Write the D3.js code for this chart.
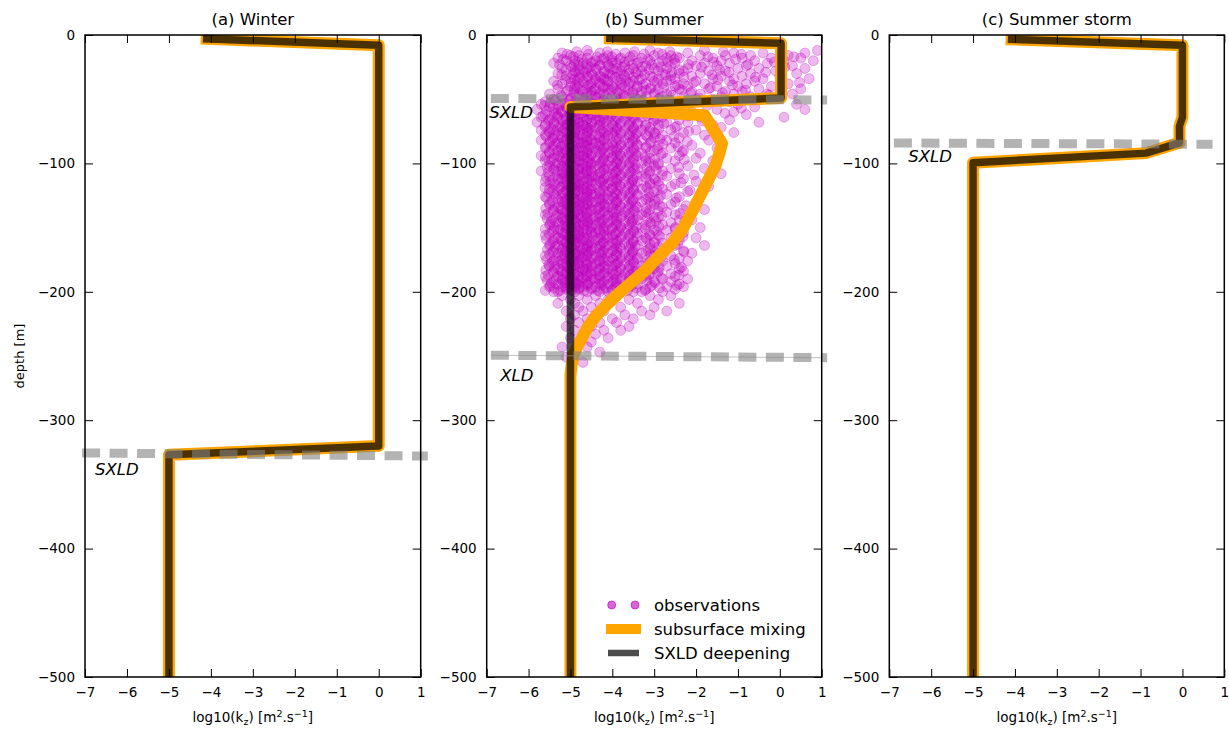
<!DOCTYPE html>
<html><head><meta charset="utf-8">
<script src="https://cdn.jsdelivr.net/npm/d3@7"></script>
<style>body{margin:0;background:#fff} text{font-family:"DejaVu Sans",sans-serif;fill:#000}</style>
</head><body><svg id="chart" width="1229" height="731"></svg>
<script>
// ---------------- data ----------------
const panelTitles = ["(a) Winter", "(b) Summer", "(c) Summer storm"];
const xTicks = [-7, -6, -5, -4, -3, -2, -1, 0, 1];
const yTicks = [0, -100, -200, -300, -400, -500];
const legendLabels = ["observations", "subsurface mixing", "SXLD deepening"];

// profiles: [log10(kz), depth]
const winterMixing    = [[-4.1,-3],[0,-8],[0,-320],[-5,-327],[-5,-500]];
const winterDeepening = [[-4.1,-3],[0,-8],[0,-320],[-5,-327],[-5,-500]];
const summerMixing    = [[-4.06,-2.6],[0.03,-6.5],[0.03,-49],[-5,-56],[-1.8,-62.5],[-1.38,-84.5],[-1.45,-93],[-1.54,-102],[-1.82,-120],[-2.1,-138],[-2.3,-150],[-2.57,-162],[-2.88,-172],[-3.2,-183],[-3.52,-192],[-3.84,-201],[-4.13,-210],[-4.4,-219],[-4.58,-227],[-4.71,-235],[-4.83,-242],[-4.91,-248],[-4.97,-256],[-5,-265],[-5,-500]];
const summerDeepening = [[-4.06,-2.6],[0.03,-6.5],[0.03,-49],[-5,-56],[-5,-500]];
const stormMixing     = [[-4.08,-3.4],[0,-8],[0,-64],[-0.07,-71],[-0.07,-84],[-0.87,-92],[-5,-99.5],[-5,-500]];
const stormDeepening  = [[-4.08,-3.4],[0,-8],[0,-64],[-0.07,-71],[-0.07,-84],[-0.87,-92],[-5,-99.5],[-5,-500]];

// layer depths: [xStart, xEnd, depthStart, depthEnd]
const winterSXLD = [-7.07, 1.17, -325.5, -327.9];
const summerSXLD = [-6.9, 1.13, -49.4, -50.6];
const summerXLD  = [-6.9, 1.13, -249.4, -251.3];
const stormSXLD  = [-6.89, 0.72, -84.1, -85.1];

// observations (summer): each row = depth, then log10(kz) values at that depth
const obsRows = [
[-12,-4.6,-3.1,-1.8,0.9],
[-14,-5.2,-4.3,-3.7,-2.9,-2.2,-1.1,-0.4,0.6],
[-16,-5.0,-4.8,-4.1,-3.5,-3.0,-2.6,-1.9,-1.3,-0.7,0.2],
[-18,-5.3,-4.6,-4.2,-3.8,-3.3,-2.7,-2.4,-1.6,-0.9,-0.2,0.5],
[-20,-5.1,-4.9,-4.4,-4.0,-3.6,-3.1,-2.8,-2.1,-1.4,-0.6,0.1,0.8],
[-22,-5.4,-4.7,-4.5,-4.0,-3.9,-3.4,-2.9,-2.5,-1.8,-1.2,-0.3],
[-24,-5.0,-4.8,-4.3,-4.1,-3.7,-3.2,-2.6,-2.0,-1.5,-0.8,0.3],
[-26,-5.2,-4.6,-4.4,-3.9,-3.5,-3.0,-2.7,-2.2,-1.0,-0.5,0.6],
[-28,-4.9,-4.7,-4.2,-3.8,-3.3,-2.9,-2.3,-1.7,-1.3,-0.1],
[-30,-5.3,-4.8,-4.5,-4.1,-3.6,-3.4,-2.8,-2.4,-1.9,-0.7,0.4],
[-32,-5.1,-4.6,-4.3,-4.0,-3.7,-3.1,-2.6,-2.1,-1.4,-0.9,0.0],
[-34,-5.0,-4.9,-4.4,-4.2,-3.8,-3.3,-2.9,-2.5,-1.6,-1.1,-0.4,0.7],
[-36,-5.4,-4.7,-4.1,-3.9,-3.5,-3.0,-2.7,-2.0,-1.2,-0.6],
[-38,-5.2,-4.8,-4.5,-4.3,-3.6,-3.2,-2.8,-2.3,-1.8,-0.8,0.2],
[-40,-5.0,-4.6,-4.2,-4.0,-3.7,-3.4,-2.5,-2.2,-1.5,-1.0,-0.2],
[-42,-5.3,-4.9,-4.4,-4.1,-3.8,-3.1,-2.9,-2.4,-1.7,-0.5,0.5],
[-44,-5.1,-4.7,-4.5,-3.9,-3.5,-3.3,-2.6,-2.1,-1.3,-0.9],
[-46,-5.5,-4.8,-4.3,-4.2,-3.6,-3.0,-2.7,-1.9,-1.1,-0.3,0.3],
[-48,-5.2,-4.6,-4.4,-4.0,-3.7,-3.2,-2.8,-2.3,-1.4,-0.7],
[-50,-5.4,-5.0,-4.5,-4.1,-3.8,-3.4,-2.9,-2.0,-1.6,-0.4],
[-52,-5.6,-4.9,-4.7,-4.3,-3.9,-3.5,-3.1,-2.4,-1.2],
[-54,-5.7,-5.2,-4.9,-4.6,-4.4,-4.0,-3.6,-3.3,-2.7,-1.0,0.4],
[-56,-5.5,-5.1,-4.8,-4.5,-4.2,-3.9,-3.5,-3.0,-2.3,-0.6],
[-58,-5.8,-5.3,-5.0,-4.7,-4.3,-4.1,-3.7,-3.2,-2.6,-1.5,0.6],
[-60,-5.4,-5.2,-4.9,-4.6,-4.4,-3.8,-3.4,-2.9,-2.1,-1.1],
[-62,-5.6,-5.0,-4.8,-4.5,-4.2,-4.0,-3.6,-3.1,-2.5,-0.8],
[-64,-5.7,-5.3,-5.1,-4.7,-4.3,-3.9,-3.5,-3.3,-2.8,-1.9,0.1],
[-66,-5.5,-5.2,-4.9,-4.6,-4.4,-4.1,-3.7,-3.0,-2.4,-1.2],
[-68,-5.8,-5.4,-5.0,-4.8,-4.5,-4.2,-3.8,-3.4,-2.7,-2.2,-0.5],
[-70,-5.6,-5.1,-4.9,-4.7,-4.3,-4.0,-3.6,-3.2,-2.9,-1.6],
[-72,-5.3,-5.2,-4.8,-4.6,-4.4,-3.9,-3.5,-3.1,-2.5,-1.4],
[-74,-5.7,-5.4,-5.0,-4.7,-4.5,-4.1,-3.7,-3.3,-2.6,-2.0],
[-76,-5.5,-5.1,-4.9,-4.6,-4.2,-4.0,-3.8,-3.4,-3.0,-2.3,-1.1],
[-78,-5.6,-5.3,-5.0,-4.8,-4.4,-4.1,-3.6,-3.2,-2.8,-1.8],
[-80,-5.4,-5.2,-4.9,-4.7,-4.3,-3.9,-3.5,-3.0,-2.4],
[-82,-5.7,-5.1,-5.0,-4.6,-4.5,-4.2,-3.7,-3.3,-2.7,-1.7],
[-84,-5.5,-5.3,-4.8,-4.7,-4.4,-4.0,-3.6,-3.1,-2.5],
[-86,-5.4,-5.2,-4.9,-4.6,-4.3,-4.1,-3.8,-3.4,-2.9,-2.1],
[-88,-5.6,-5.0,-4.8,-4.5,-4.2,-3.9,-3.5,-3.2,-2.6,-1.5],
[-90,-5.3,-5.1,-4.9,-4.7,-4.4,-4.0,-3.7,-3.0,-2.3],
[-92,-5.5,-5.2,-5.0,-4.6,-4.3,-4.1,-3.6,-3.3,-2.8,-1.9],
[-94,-5.7,-5.3,-4.8,-4.7,-4.5,-3.9,-3.8,-3.4,-2.4],
[-96,-5.4,-5.1,-4.9,-4.6,-4.2,-4.0,-3.5,-3.1,-2.7,-2.0],
[-98,-5.6,-5.2,-5.0,-4.8,-4.4,-4.1,-3.7,-3.2,-2.5,-1.6],
[-100,-5.3,-5.0,-4.7,-4.5,-4.3,-3.9,-3.6,-3.3,-2.9],
[-102,-5.5,-5.2,-4.9,-4.6,-4.4,-4.0,-3.8,-3.0,-2.2],
[-104,-5.4,-5.1,-4.8,-4.7,-4.2,-4.1,-3.5,-3.4,-2.6,-1.8],
[-106,-5.7,-5.3,-5.0,-4.6,-4.5,-3.9,-3.7,-3.1,-2.8],
[-108,-5.2,-5.0,-4.9,-4.7,-4.3,-4.0,-3.6,-3.2,-2.4,-1.4],
[-110,-5.5,-5.1,-4.8,-4.5,-4.4,-4.1,-3.8,-3.3,-2.7],
[-112,-5.3,-5.2,-4.9,-4.6,-4.2,-3.9,-3.5,-3.0,-2.3],
[-114,-5.6,-5.0,-4.7,-4.5,-4.3,-4.0,-3.7,-3.4,-2.9,-2.0],
[-116,-5.4,-5.1,-4.9,-4.8,-4.4,-4.1,-3.6,-3.1,-2.5],
[-118,-5.2,-5.0,-4.8,-4.6,-4.2,-3.9,-3.8,-3.2,-2.6,-1.7],
[-120,-5.5,-5.3,-4.9,-4.7,-4.5,-4.0,-3.5,-3.3,-2.8],
[-122,-5.1,-5.0,-4.8,-4.6,-4.3,-4.1,-3.7,-3.0,-2.2],
[-124,-5.4,-5.2,-4.9,-4.5,-4.4,-3.9,-3.6,-3.4,-2.7,-1.9],
[-126,-5.6,-5.0,-4.7,-4.6,-4.2,-4.0,-3.8,-3.1,-2.4],
[-128,-5.3,-5.1,-4.9,-4.8,-4.3,-4.1,-3.5,-3.2,-2.9],
[-130,-5.2,-5.0,-4.7,-4.5,-4.4,-3.9,-3.7,-3.3,-2.5,-2.0],
[-132,-5.5,-5.1,-4.8,-4.6,-4.2,-4.0,-3.6,-3.0,-2.6],
[-134,-5.3,-5.0,-4.9,-4.7,-4.3,-4.1,-3.8,-3.4,-2.8],
[-136,-5.4,-5.2,-4.8,-4.5,-4.4,-3.9,-3.5,-3.1,-2.3,-1.8],
[-138,-5.1,-5.0,-4.7,-4.6,-4.2,-4.0,-3.7,-3.2,-2.7],
[-140,-5.6,-5.3,-4.9,-4.8,-4.3,-4.1,-3.6,-3.3,-2.5],
[-142,-5.2,-5.0,-4.8,-4.6,-4.4,-3.9,-3.8,-3.0,-2.9],
[-144,-5.4,-5.1,-4.9,-4.5,-4.2,-4.0,-3.5,-3.4,-2.4,-2.1],
[-146,-5.3,-5.0,-4.7,-4.6,-4.3,-4.1,-3.7,-3.1,-2.6],
[-148,-5.5,-5.2,-4.8,-4.7,-4.4,-3.9,-3.6,-3.2,-2.8],
[-150,-5.1,-5.0,-4.9,-4.5,-4.2,-4.0,-3.8,-3.3,-2.5,-1.9],
[-152,-5.4,-5.3,-4.8,-4.6,-4.3,-4.1,-3.5,-3.0,-2.7],
[-154,-5.2,-5.0,-4.7,-4.5,-4.4,-3.9,-3.7,-3.4,-2.3],
[-156,-5.6,-5.1,-4.9,-4.8,-4.2,-4.0,-3.6,-3.1,-2.9],
[-158,-5.3,-5.0,-4.8,-4.6,-4.3,-4.1,-3.8,-3.2,-2.6,-2.0],
[-160,-5.4,-5.2,-4.9,-4.7,-4.4,-3.9,-3.5,-3.3,-2.4],
[-162,-5.1,-5.0,-4.8,-4.5,-4.2,-4.0,-3.7,-3.0,-2.8],
[-164,-5.5,-5.3,-4.9,-4.6,-4.3,-4.1,-3.6,-3.4,-2.5,-1.8],
[-166,-5.2,-5.0,-4.7,-4.6,-4.4,-3.9,-3.8,-3.1,-2.7],
[-168,-5.4,-5.1,-4.8,-4.5,-4.2,-4.0,-3.5,-3.2,-2.3],
[-170,-5.3,-5.0,-4.9,-4.7,-4.3,-4.1,-3.7,-3.3,-2.9,-2.1],
[-172,-5.6,-5.2,-4.8,-4.6,-4.4,-3.9,-3.6,-3.0,-2.6],
[-174,-5.1,-5.0,-4.7,-4.5,-4.2,-4.0,-3.8,-3.4,-2.4],
[-176,-5.4,-5.3,-4.9,-4.8,-4.3,-4.1,-3.5,-3.1,-2.8,-2.2],
[-178,-5.2,-5.0,-4.8,-4.6,-4.4,-3.9,-3.7,-3.2,-2.5],
[-180,-5.5,-5.1,-4.9,-4.5,-4.2,-4.0,-3.6,-3.3,-2.7],
[-182,-5.3,-5.0,-4.7,-4.6,-4.3,-4.1,-3.8,-3.0,-2.4],
[-184,-5.4,-5.2,-4.8,-4.7,-4.4,-3.9,-3.5,-3.4,-2.9,-2.3],
[-186,-5.1,-5.0,-4.9,-4.5,-4.2,-4.0,-3.7,-3.1,-2.6],
[-188,-5.6,-5.3,-4.8,-4.6,-4.3,-4.1,-3.6,-3.2,-2.5],
[-190,-5.2,-5.0,-4.7,-4.5,-4.4,-3.9,-3.8,-3.3,-2.8,-2.2],
[-192,-5.4,-5.1,-4.9,-4.8,-4.2,-4.0,-3.5,-3.0,-2.6],
[-194,-5.3,-5.0,-4.8,-4.6,-4.3,-4.1,-3.7,-3.4,-2.4],
[-196,-5.5,-5.2,-4.9,-4.7,-4.4,-3.9,-3.6,-3.1,-2.7,-2.3],
[-198,-5.1,-5.0,-4.8,-4.5,-4.2,-4.0,-3.8,-3.2,-2.5],
[-200,-5.4,-5.3,-4.9,-4.6,-4.3,-4.1,-3.5,-3.3,-2.8],
[-203,-5.2,-4.8,-4.4,-3.9,-3.1,-2.6],
[-206,-5.0,-4.6,-4.1,-3.6,-2.9],
[-209,-5.3,-4.9,-4.3,-3.4,-2.4],
[-212,-4.8,-4.5,-3.8,-3.0],
[-215,-5.1,-4.7,-4.2,-3.3,-2.7],
[-218,-4.9,-4.4,-3.7,-3.1],
[-221,-5.0,-4.6,-4.0,-3.5],
[-224,-4.8,-4.3,-3.9],
[-227,-5.1,-4.5,-3.6],
[-230,-4.9,-4.2,-3.8],
[-233,-4.7,-4.4],
[-236,-5.0,-4.1],
[-239,-4.8,-4.5],
[-243,-5.2,-4.6],
[-247,-4.9,-4.3],
[-251,-5.1],
[-255,-4.7]
];
// observations from additional profiles (odd depths)
const obsRows2 = [
[-13,-4.85,-4.12,-3.47,-2.63,-1.35],
[-15,-5.08,-4.57,-3.92,-3.24,-2.81,-0.92],
[-17,-4.93,-4.36,-4.01,-3.58,-2.46,-1.72,0.34],
[-19,-5.17,-4.72,-4.25,-3.83,-3.15,-2.52,-1.06],
[-21,-4.81,-4.47,-4.13,-3.71,-3.38,-2.67,-1.58,-0.13],
[-23,-5.26,-4.91,-4.62,-4.29,-3.52,-3.06,-2.18,-0.76],
[-25,-4.96,-4.53,-4.07,-3.76,-3.29,-2.84,-1.87,0.12],
[-27,-5.11,-4.78,-4.38,-3.97,-3.61,-3.12,-2.41,-1.44],
[-29,-4.87,-4.64,-4.19,-3.87,-3.44,-2.58,-1.21,-0.34],
[-31,-5.21,-4.95,-4.48,-4.06,-3.73,-3.23,-2.73,-1.62],
[-33,-4.77,-4.58,-4.27,-3.93,-3.49,-3.04,-2.29,-0.58],
[-35,-5.13,-4.83,-4.41,-4.16,-3.67,-3.36,-2.61,-1.48],
[-37,-4.98,-4.67,-4.32,-3.81,-3.57,-2.93,-2.06,0.47],
[-39,-5.31,-4.89,-4.56,-4.11,-3.78,-3.27,-2.44,-1.13],
[-41,-4.84,-4.51,-4.22,-3.96,-3.41,-3.08,-2.77,-1.66],
[-43,-5.06,-4.76,-4.43,-4.03,-3.63,-3.19,-2.34,-0.82],
[-45,-4.92,-4.61,-4.29,-3.86,-3.52,-2.98,-2.13,-1.37],
[-47,-5.23,-4.85,-4.52,-4.14,-3.74,-3.31,-2.56,-0.26],
[-49,-4.99,-4.69,-4.35,-3.91,-3.46,-2.87,-1.93],
[-51,-5.36,-5.02,-4.63,-4.21,-3.83,-3.26,-2.62],
[-53,-5.48,-5.13,-4.81,-4.52,-4.17,-3.84,-3.42,-2.96,-2.14],
[-55,-5.62,-5.27,-4.93,-4.64,-4.33,-3.96,-3.58,-3.14,-1.74],
[-57,-5.41,-5.08,-4.76,-4.47,-4.12,-3.77,-3.37,-2.83,-0.92],
[-59,-5.57,-5.21,-4.87,-4.58,-4.26,-3.91,-3.53,-3.08,-2.38],
[-61,-5.34,-5.02,-4.72,-4.41,-4.07,-3.69,-3.28,-2.71,-1.31],
[-63,-5.66,-5.31,-4.96,-4.67,-4.36,-4.03,-3.63,-3.17,-2.19],
[-65,-5.44,-5.11,-4.83,-4.54,-4.21,-3.86,-3.47,-2.94],
[-67,-5.53,-5.18,-4.91,-4.62,-4.29,-3.94,-3.56,-3.02,-1.86],
[-69,-5.39,-5.06,-4.79,-4.49,-4.14,-3.81,-3.39,-2.77],
[-71,-5.61,-5.24,-4.94,-4.66,-4.32,-3.98,-3.61,-3.21,-2.46],
[-73,-5.46,-5.14,-4.84,-4.56,-4.23,-3.88,-3.49,-2.89],
[-75,-5.52,-5.19,-4.89,-4.59,-4.27,-3.93,-3.54,-3.11,-2.18],
[-77,-5.37,-5.04,-4.77,-4.48,-4.16,-3.79,-3.43,-2.97],
[-79,-5.58,-5.22,-4.92,-4.63,-4.31,-3.97,-3.59,-3.16,-2.53],
[-81,-5.43,-5.09,-4.82,-4.53,-4.19,-3.84,-3.46,-2.86],
[-83,-5.49,-5.16,-4.88,-4.61,-4.28,-3.92,-3.52,-3.07,-2.21],
[-85,-5.35,-5.03,-4.74,-4.46,-4.13,-3.78,-3.41,-2.79],
[-87,-5.59,-5.23,-4.95,-4.65,-4.34,-3.99,-3.62,-3.19,-2.43],
[-89,-5.42,-5.12,-4.85,-4.57,-4.24,-3.87,-3.48,-2.92],
[-91,-5.51,-5.17,-4.90,-4.60,-4.26,-3.91,-3.55,-3.09,-2.33],
[-93,-5.38,-5.05,-4.78,-4.50,-4.18,-3.82,-3.44,-2.84],
[-95,-5.60,-5.25,-4.97,-4.68,-4.35,-4.01,-3.64,-3.22],
[-97,-5.45,-5.10,-4.81,-4.55,-4.22,-3.86,-3.50,-2.99,-2.28],
[-99,-5.50,-5.15,-4.86,-4.58,-4.25,-3.90,-3.57,-3.13],
[-101,-5.36,-5.07,-4.79,-4.51,-4.15,-3.80,-3.45,-2.90],
[-103,-5.56,-5.20,-4.93,-4.64,-4.30,-3.95,-3.60,-3.18,-2.42],
[-105,-5.40,-5.08,-4.80,-4.52,-4.20,-3.85,-3.47,-2.95],
[-107,-5.53,-5.18,-4.89,-4.62,-4.28,-3.93,-3.56,-3.12],
[-109,-5.33,-5.04,-4.76,-4.47,-4.14,-3.79,-3.42,-2.81,-2.05],
[-111,-5.58,-5.22,-4.94,-4.66,-4.33,-3.98,-3.63,-3.20],
[-113,-5.44,-5.11,-4.84,-4.55,-4.23,-3.88,-3.51,-2.97],
[-115,-5.49,-5.15,-4.87,-4.59,-4.26,-3.92,-3.54,-3.10,-2.36],
[-117,-5.37,-5.06,-4.78,-4.49,-4.16,-3.82,-3.45,-2.88],
[-119,-5.61,-5.24,-4.96,-4.67,-4.34,-4.00,-3.62,-3.17],
[-121,-5.42,-5.10,-4.82,-4.54,-4.21,-3.86,-3.49,-2.93,-2.15],
[-123,-5.52,-5.17,-4.90,-4.61,-4.29,-3.94,-3.57,-3.13],
[-125,-5.35,-5.03,-4.75,-4.46,-4.12,-3.77,-3.40,-2.85],
[-127,-5.57,-5.21,-4.92,-4.63,-4.31,-3.96,-3.60,-3.15,-2.47],
[-129,-5.43,-5.12,-4.85,-4.56,-4.24,-3.89,-3.52,-2.98],
[-131,-5.50,-5.16,-4.88,-4.60,-4.27,-3.92,-3.55,-3.09],
[-133,-5.38,-5.05,-4.77,-4.48,-4.17,-3.81,-3.44,-2.87,-2.24],
[-135,-5.59,-5.23,-4.95,-4.65,-4.33,-3.99,-3.61,-3.19],
[-137,-5.41,-5.09,-4.83,-4.53,-4.19,-3.84,-3.47,-2.91],
[-139,-5.54,-5.19,-4.91,-4.62,-4.30,-3.95,-3.58,-3.14,-2.39],
[-141,-5.34,-5.02,-4.74,-4.45,-4.11,-3.76,-3.39,-2.82],
[-143,-5.56,-5.20,-4.93,-4.64,-4.32,-3.97,-3.59,-3.16],
[-145,-5.45,-5.13,-4.86,-4.57,-4.25,-3.90,-3.53,-2.96,-2.27],
[-147,-5.48,-5.14,-4.87,-4.58,-4.26,-3.91,-3.54,-3.07],
[-149,-5.39,-5.07,-4.79,-4.50,-4.15,-3.80,-3.43,-2.89],
[-151,-5.60,-5.25,-4.97,-4.68,-4.35,-4.01,-3.64,-3.21,-2.50],
[-153,-5.44,-5.10,-4.81,-4.52,-4.20,-3.85,-3.48,-2.94],
[-155,-5.51,-5.17,-4.89,-4.61,-4.28,-3.93,-3.56,-3.11],
[-157,-5.36,-5.04,-4.76,-4.47,-4.13,-3.78,-3.41,-2.86,-2.31],
[-159,-5.58,-5.22,-4.94,-4.66,-4.34,-3.98,-3.62,-3.18],
[-161,-5.42,-5.11,-4.84,-4.55,-4.22,-3.87,-3.50,-2.99],
[-163,-5.49,-5.16,-4.88,-4.59,-4.27,-3.92,-3.55,-3.10,-2.44],
[-165,-5.37,-5.06,-4.78,-4.49,-4.16,-3.82,-3.45,-2.90],
[-167,-5.55,-5.20,-4.92,-4.63,-4.31,-3.96,-3.59,-3.15],
[-169,-5.43,-5.12,-4.85,-4.56,-4.24,-3.89,-3.52,-2.97,-2.29],
[-171,-5.50,-5.15,-4.87,-4.60,-4.26,-3.91,-3.54,-3.08],
[-173,-5.35,-5.03,-4.75,-4.46,-4.12,-3.77,-3.40,-2.84],
[-175,-5.57,-5.21,-4.93,-4.64,-4.32,-3.97,-3.60,-3.16,-2.52],
[-177,-5.44,-5.10,-4.82,-4.54,-4.21,-3.86,-3.49,-2.95],
[-179,-5.52,-5.18,-4.90,-4.62,-4.29,-3.94,-3.57,-3.12],
[-181,-5.38,-5.05,-4.77,-4.48,-4.17,-3.81,-3.44,-2.88,-2.35],
[-183,-5.59,-5.23,-4.95,-4.65,-4.33,-3.99,-3.61,-3.19],
[-185,-5.41,-5.09,-4.83,-4.53,-4.19,-3.84,-3.47,-2.92],
[-187,-5.53,-5.19,-4.91,-4.62,-4.30,-3.95,-3.58,-3.13,-2.41],
[-189,-5.34,-5.02,-4.74,-4.45,-4.11,-3.76,-3.39,-2.83],
[-191,-5.56,-5.20,-4.93,-4.64,-4.32,-3.97,-3.59,-3.17],
[-193,-5.45,-5.13,-4.86,-4.57,-4.25,-3.90,-3.53,-2.98],
[-195,-5.48,-5.14,-4.87,-4.58,-4.26,-3.91,-3.54,-3.06,-2.46],
[-197,-5.39,-5.07,-4.79,-4.50,-4.15,-3.80,-3.43,-2.87],
[-199,-5.60,-5.25,-4.97,-4.68,-4.35,-4.01,-3.64,-3.22]
];

// ---------------- drawing ----------------
const svg = d3.select("#chart");
const ORANGE = "#ffa500", MAG = "#bf00bf";
const yTop = 35, yBottom = 677;
const y = d3.scaleLinear().domain([0, -500]).range([yTop, yBottom]);

const panels = [
  {title: panelTitles[0], x0: 85,    x1: 420.7,  mixing: winterMixing, deep: winterDeepening,
   layers: [{v: winterSXLD, name: "SXLD", dx: 10, dy: 22}], obs: false},
  {title: panelTitles[1], x0: 486.7, x1: 821.7,  mixing: summerMixing, deep: summerDeepening,
   layers: [{v: summerSXLD, name: "SXLD", dx: 2.5, dy: 20}, {v: summerXLD, name: "XLD", dx: 13.5, dy: 25.5, thin: true}], obs: true},
  {title: panelTitles[2], x0: 889.3, x1: 1224.3, mixing: stormMixing, deep: stormDeepening,
   layers: [{v: stormSXLD, name: "SXLD", dx: 19, dy: 19}], obs: false}
];

const defs = svg.append("defs");

panels.forEach((p, i) => {
  const x = d3.scaleLinear().domain([-7, 1]).range([p.x0, p.x1]);
  const g = svg.append("g");
  const clipId = "clip" + i;
  defs.append("clipPath").attr("id", clipId).append("rect")
    .attr("x", p.x0).attr("y", yTop).attr("width", p.x1 - p.x0).attr("height", yBottom - yTop);
  const plot = g.append("g").attr("clip-path", `url(#${clipId})`);

  // observations
  if (p.obs) {
    const pts = [];
    obsRows.concat(obsRows2).forEach(r => { for (let k = 1; k < r.length; k++) pts.push([r[k], r[0]]); });
    plot.append("g").selectAll("circle").data(pts).join("circle")
      .attr("cx", d => x(d[0])).attr("cy", d => y(d[1])).attr("r", 5)
      .attr("fill", MAG).attr("fill-opacity", 0.28)
      .attr("stroke", MAG).attr("stroke-opacity", 0.28).attr("stroke-width", 1);
  }

  const line = d3.line().x(d => x(d[0])).y(d => y(d[1]));
  plot.append("path").attr("d", line(p.mixing)).attr("fill", "none")
    .attr("stroke", ORANGE).attr("stroke-width", 12).attr("stroke-linejoin", "round").attr("stroke-linecap", "square");
  plot.append("path").attr("d", line(p.deep)).attr("fill", "none")
    .attr("stroke", "#000").attr("stroke-opacity", 0.7).attr("stroke-width", 7.5)
    .attr("stroke-linejoin", "round").attr("stroke-linecap", "square");

  // layer depth lines
  p.layers.forEach(L => {
    const v = L.v;
    if (L.thin) {
      g.append("line").attr("x1", x(v[0])).attr("x2", x(1)).attr("y1", y(v[2])).attr("y2", y(v[3]))
        .attr("stroke", "#999").attr("stroke-opacity", 0.6).attr("stroke-width", 1);
    }
    g.append("line").attr("x1", x(v[0])).attr("x2", x(v[1])).attr("y1", y(v[2])).attr("y2", y(v[3]))
      .attr("stroke", "#808080").attr("stroke-opacity", 0.6).attr("stroke-width", 9)
      .attr("stroke-dasharray", "18,9.5");
    g.append("text").attr("x", x(-7) + L.dx).attr("y", y(v[2]) + L.dy)
      .attr("font-size", 16.5).attr("font-style", "italic").text(L.name);
  });

  // spines
  g.append("rect").attr("x", p.x0).attr("y", yTop).attr("width", p.x1 - p.x0).attr("height", yBottom - yTop)
    .attr("fill", "none").attr("stroke", "#000").attr("stroke-width", 1.5);

  // axes (ticks inward on all sides)
  const ax = (a, tr, labels) => {
    const gg = g.append("g").attr("transform", tr).call(a);
    gg.select(".domain").remove();
    gg.selectAll("line").attr("stroke", "#000").attr("stroke-width", 1);
    gg.selectAll("text").attr("font-size", 13.5).attr("font-family", "DejaVu Sans").attr("fill", "#000");
    if (!labels) gg.selectAll("text").remove();
    return gg;
  };
  ax(d3.axisBottom(x).tickValues(xTicks).tickSizeInner(-8).tickSizeOuter(0).tickPadding(10), `translate(0,${yBottom})`, true);
  ax(d3.axisTop(x).tickValues(xTicks).tickSizeInner(-8).tickSizeOuter(0), `translate(0,${yTop})`, false);
  ax(d3.axisLeft(y).tickValues(yTicks).tickSizeInner(-8).tickSizeOuter(0).tickPadding(10), `translate(${p.x0},0)`, true);
  ax(d3.axisRight(y).tickValues(yTicks).tickSizeInner(-8).tickSizeOuter(0), `translate(${p.x1},0)`, false);

  // title
  svg.append("text").attr("x", (p.x0 + p.x1) / 2).attr("y", 25).attr("text-anchor", "middle")
    .attr("font-size", 16.5).text(p.title);

  // x label
  const xl = svg.append("text").attr("x", (p.x0 + p.x1) / 2).attr("y", 722).attr("text-anchor", "middle")
    .attr("font-size", 13.5);
  xl.append("tspan").text("log10(k");
  xl.append("tspan").attr("font-size", 9.5).attr("dy", 3).text("z");
  xl.append("tspan").attr("dy", -3).text(") [m");
  xl.append("tspan").attr("font-size", 9.5).attr("dy", -5).text("2");
  xl.append("tspan").attr("dy", 5).text(".s");
  xl.append("tspan").attr("font-size", 9.5).attr("dy", -5).text("\u22121");
  xl.append("tspan").attr("dy", 5).text("]");

  // legend in panel b
  if (p.obs) {
    const lg = svg.append("g");
    const rows = [605, 629, 653];
    [611.7, 635].forEach(cx => lg.append("circle").attr("cx", cx).attr("cy", rows[0]).attr("r", 4)
      .attr("fill", MAG).attr("fill-opacity", 0.6).attr("stroke", MAG).attr("stroke-opacity", 0.6));
    lg.append("line").attr("x1", 606).attr("x2", 641).attr("y1", rows[1]).attr("y2", rows[1])
      .attr("stroke", ORANGE).attr("stroke-width", 10);
    lg.append("line").attr("x1", 608).attr("x2", 639).attr("y1", rows[2]).attr("y2", rows[2])
      .attr("stroke", "#000").attr("stroke-opacity", 0.7).attr("stroke-width", 6.5);
    legendLabels.forEach((t, k) => lg.append("text").attr("x", 654).attr("y", rows[k] + 6)
      .attr("font-size", 16.5).text(t));
  }
});

// y label
svg.append("text").attr("transform", "translate(24,356) rotate(-90)").attr("text-anchor", "middle")
  .attr("font-size", 13).text("depth [m]");
</script>
</body></html>
